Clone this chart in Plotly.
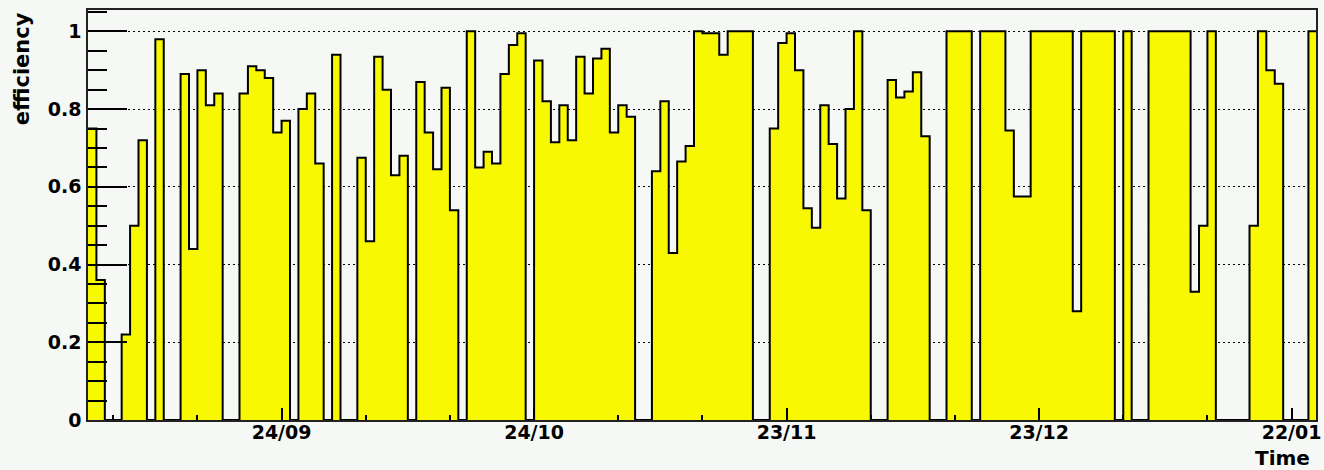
import datetime as dt
import plotly.graph_objects as go

# Daily efficiency, one bin per day starting on the first day below
start_day = dt.datetime(2007, 9, 1)
n_days_shown = 145.9

efficiency = [
    0.75, 0.36, 0.0, 0.0, 0.22, 0.50, 0.72, 0.0, 0.98, 0.0,
    0.0, 0.89, 0.44, 0.90, 0.81, 0.84, 0.0, 0.0, 0.84, 0.91,
    0.90, 0.88, 0.74, 0.77, 0.0, 0.80, 0.84, 0.66, 0.0, 0.94,
    0.0, 0.0, 0.675, 0.46, 0.935, 0.85, 0.63, 0.68, 0.0, 0.87,
    0.74, 0.645, 0.855, 0.54, 0.0, 1.0, 0.65, 0.69, 0.66, 0.89,
    0.965, 0.995, 0.0, 0.925, 0.82, 0.715, 0.81, 0.72, 0.935, 0.84,
    0.93, 0.955, 0.74, 0.81, 0.78, 0.0, 0.0, 0.64, 0.82, 0.43,
    0.665, 0.705, 1.0, 0.995, 0.995, 0.94, 1.0, 1.0, 1.0, 0.0,
    0.0, 0.75, 0.97, 0.995, 0.90, 0.545, 0.495, 0.81, 0.71, 0.57,
    0.80, 1.0, 0.54, 0.0, 0.0, 0.875, 0.83, 0.845, 0.895, 0.73,
    0.0, 0.0, 1.0, 1.0, 1.0, 0.0, 1.0, 1.0, 1.0, 0.745,
    0.575, 0.575, 1.0, 1.0, 1.0, 1.0, 1.0, 0.28, 1.0, 1.0,
    1.0, 1.0, 0.0, 1.0, 0.0, 0.0, 1.0, 1.0, 1.0, 1.0,
    1.0, 0.33, 0.50, 1.0, 0.0, 0.0, 0.0, 0.0, 0.50, 1.0,
    0.90, 0.865, 0.0, 0.0, 0.0, 1.0,
]

# Labelled time ticks (every 30 days) and their texts
major_tick_dates = ["2007-09-24", "2007-10-24", "2007-11-23", "2007-12-23", "2008-01-22"]
major_tick_text = ["24/09", "24/10", "23/11", "23/12", "22/01"]

y_tick_vals = [0, 0.2, 0.4, 0.6, 0.8, 1.0]
y_tick_text = ["0", "0.2", "0.4", "0.6", "0.8", "1"]

# Bin edges: the step outline needs one extra point closing the last bin
edges = [start_day + dt.timedelta(days=i) for i in range(len(efficiency) + 1)]
steps = efficiency + [efficiency[-1]]

bg = "#f5f8f5"
font_family = "DejaVu Sans"

fig = go.Figure()
fig.add_trace(go.Scatter(
    x=edges,
    y=steps,
    mode="lines",
    line=dict(shape="hv", color="#000000", width=2),
    fill="tozeroy",
    fillcolor="#f8f800",
    hoverinfo="skip",
    showlegend=False,
))

x_end = start_day + dt.timedelta(days=n_days_shown)

fig.update_layout(
    width=1324,
    height=470,
    margin=dict(l=88, r=3, t=10, b=50),
    paper_bgcolor=bg,
    plot_bgcolor=bg,
    font=dict(family=font_family, size=19, color="#000000", weight="bold"),
    xaxis=dict(
        type="date",
        range=[start_day, x_end],
        tickmode="array",
        tickvals=major_tick_dates,
        ticktext=major_tick_text,
        ticks="inside",
        ticklen=12,
        tickwidth=1.5,
        tickcolor="#000000",
        ticklabeloverflow="allow",
        ticklabelstandoff=-6,
        showgrid=False,
        zeroline=False,
        showline=True,
        linecolor="#222222",
        linewidth=1.5,
        mirror=True,
        minor=dict(
            ticks="inside",
            ticklen=5,
            tickwidth=1.5,
            tickcolor="#000000",
            tick0="2007-09-04",
            dtick=10 * 86400000,
            showgrid=False,
        ),
        tickfont=dict(family=font_family, size=19, weight="bold"),
    ),
    yaxis=dict(
        range=[0, 1.055],
        tickmode="array",
        tickvals=y_tick_vals,
        ticktext=y_tick_text,
        ticks="inside",
        ticklen=39,
        tickwidth=1.5,
        tickcolor="#000000",
        ticklabelstandoff=1,
        showgrid=True,
        gridcolor="#000000",
        gridwidth=1,
        griddash="2px,3px",
        zeroline=False,
        showline=True,
        linecolor="#222222",
        linewidth=1.5,
        mirror=True,
        minor=dict(
            ticks="inside",
            ticklen=19,
            tickwidth=1.5,
            tickcolor="#000000",
            tick0=0,
            dtick=0.05,
            showgrid=False,
        ),
        tickfont=dict(family=font_family, size=19, weight="bold"),
    ),
    annotations=[
        dict(
            text="efficiency",
            textangle=-90,
            xref="paper", yref="paper",
            x=-0.054, y=1.0,
            xanchor="center", yanchor="top",
            showarrow=False,
            font=dict(family=font_family, size=21, weight="bold"),
        ),
        dict(
            text="Time",
            xref="paper", yref="paper",
            x=0.9968, y=-0.093,
            xanchor="right", yanchor="middle",
            showarrow=False,
            font=dict(family=font_family, size=20, weight="bold"),
        ),
    ],
)

fig.write_html("out.html")
